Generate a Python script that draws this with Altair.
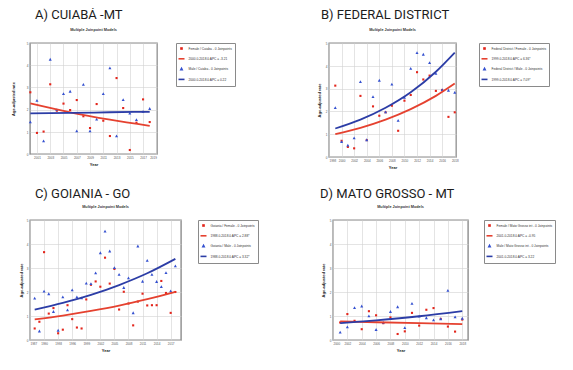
import altair as alt
import pandas as pd

# ---------------- data ----------------
# A) Cuiabá
a_years = list(range(2000, 2019))
a_female = [2.78, 0.95, 1.01, 3.14, 1.95, 2.27, 1.98, 2.43, 1.70, 1.17, 2.25, 1.50, 0.81, 3.42, 2.07, 0.18, 1.41, 2.46, 1.44]
a_male = [1.43, 2.40, 0.57, 4.25, 1.98, 2.70, 2.81, 1.02, 3.12, 1.02, 1.55, 2.70, 3.86, 0.80, 2.43, 1.82, 1.53, 1.90, 2.03]
a_fit_years = [2000, 2006, 2012, 2018]
a_fit_female = [2.28, 1.88, 1.55, 1.27]
a_fit_male = [1.83, 1.85, 1.88, 1.90]
a_labels = ["Female / Cuiaba - 0 Joinpoints", "2000.0-2018.0 APC = -3.21",
            "Male / Cuiaba - 0 Joinpoints", "2000.0-2018.0 APC = 0.22"]
a_ticks = [2001, 2003, 2005, 2007, 2009, 2011, 2013, 2015, 2017, 2019]

# B) Federal District
b_years = list(range(1999, 2019))
b_female = [3.13, 0.71, 0.44, 0.38, 2.68, 0.74, 2.22, 1.81, 1.96, 2.25, 1.15, 2.47, 2.72, 3.72, 3.40, 3.57, 2.90, 2.94, 1.76, 1.96]
b_male = [2.15, 0.66, 0.50, 0.82, 3.29, 0.74, 2.63, 3.35, 1.96, 3.18, 1.59, 2.60, 3.87, 4.56, 4.49, 4.12, 3.65, 2.94, 2.91, 2.82]
b_fit_years = [1999, 2003, 2007, 2011, 2015, 2018]
b_fit_female = [1.00, 1.28, 1.64, 2.10, 2.68, 3.22]
b_fit_male = [1.25, 1.64, 2.16, 2.84, 3.74, 4.58]
b_labels = ["Federal District / Female - 0 Joinpoints", "1999.0-2018.0 APC = 6.36*",
            "Federal District / Male - 0 Joinpoints", "1999.0-2018.0 APC = 7.09*"]
b_ticks = [1998, 2000, 2002, 2004, 2006, 2008, 2010, 2012, 2014, 2016, 2018]

# C) Goiania
c_years = list(range(1988, 2019))
c_female = [0.48, 0.76, 3.66, 1.10, 1.33, 0.28, 0.43, 1.45, 0.87, 0.52, 0.48, 1.69, 2.30, 2.44, 2.22, 3.43,
            2.35, 2.96, 1.27, 2.01, 1.52, 0.61, 1.60, 1.93, 1.44, 1.45, 1.45, 2.46, 1.96, 1.13, 2.00]
c_male = [1.73, 0.36, 2.02, 1.91, 1.17, 0.39, 1.78, 1.24, 2.07, 1.78, 1.74, 2.35, 2.33, 2.78, 3.62, 4.52,
          3.69, 3.00, 2.72, 2.17, 2.57, 1.12, 3.90, 2.43, 3.30, 2.72, 2.42, 2.21, 2.79, 2.03, 3.07]
c_fit_years = [1988, 1994, 2000, 2006, 2012, 2018]
c_fit_female = [0.86, 1.02, 1.21, 1.43, 1.70, 2.01]
c_fit_male = [1.27, 1.55, 1.88, 2.29, 2.78, 3.38]
c_labels = ["Goiania / Female - 0 Joinpoints", "1988.0-2018.0 APC = 2.88*",
            "Goiania / Male - 0 Joinpoints", "1988.0-2018.0 APC = 3.32*"]
c_ticks = [1987, 1990, 1993, 1996, 1999, 2002, 2005, 2008, 2011, 2014, 2017]

# D) Mato Grosso
d_years = list(range(2001, 2019))
d_female = [0.73, 1.08, 0.80, 0.45, 1.20, 1.03, 0.70, 0.94, 0.25, 0.36, 1.13, 0.60, 1.26, 1.33, 0.88, 0.56, 0.35, 0.85]
d_male = [0.31, 0.53, 1.33, 1.40, 0.99, 0.42, 0.72, 1.17, 1.37, 0.50, 1.51, 0.98, 0.91, 0.82, 0.87, 2.05, 0.95, 0.89]
d_fit_years = [2001, 2006, 2012, 2018]
d_fit_female = [0.78, 0.74, 0.70, 0.66]
d_fit_male = [0.70, 0.82, 0.99, 1.20]
d_labels = ["Female / Mato Grosso int - 0 Joinpoints", "2001.0-2018.0 APC = -0.95",
            "Male / Mato Grosso int - 0 Joinpoints", "2001.0-2018.0 APC = 3.22"]
d_ticks = [2000, 2002, 2004, 2006, 2008, 2010, 2012, 2014, 2016, 2018]

# ---------------- style ----------------
RED = "#e3261c"
RED_LINE = "#e5412f"
BLUE = "#3551d0"
BLUE_LINE = "#2c3da6"
SQ = "M-0.26,-0.26L0.26,-0.26L0.26,0.26L-0.26,0.26Z"
TRI = "M0,-0.32L0.3,0.24L-0.3,0.24Z"
LN = "M-1.5,0L1.5,0"
FONT = "Liberation Sans"


def panel(big, dx, t_off, years, fem, mal, fyears, ffem, fmal, labels, xdom, xticks, w, h, ytp, loff):
    pts = pd.DataFrame({
        "year": years + years,
        "rate": fem + mal,
        "leg": [labels[0]] * len(years) + [labels[2]] * len(years),
    })
    fit = pd.DataFrame({
        "year": fyears + fyears,
        "rate": ffem + fmal,
        "leg": [labels[1]] * len(fyears) + [labels[3]] * len(fyears),
    })
    leg = alt.Legend(title=None, orient="right", offset=loff, padding=2.5, rowPadding=2.3,
                     labelFontSize=3.2, labelFont=FONT, labelColor="#333", labelLimit=300,
                     labelOffset=4, symbolSize=16, symbolStrokeWidth=1.6,
                     strokeColor="#8a8a8a", fillColor="white")
    color = alt.Color("leg:N", scale=alt.Scale(domain=labels, range=[RED, RED_LINE, BLUE, BLUE_LINE]), legend=leg)
    shape = alt.Shape("leg:N", scale=alt.Scale(domain=labels, range=[SQ, LN, TRI, LN]), legend=leg)
    xs = alt.Scale(domain=xdom, nice=False, zero=False)
    ys = alt.Scale(domain=[0, 5], nice=False)
    xax = alt.Axis(values=xticks, format="d", title="Year", titlePadding=3, labelPadding=2.5)
    yax = alt.Axis(values=[0, 1, 2, 3, 4, 5], title="Age-adjusted rate", titlePadding=ytp, labelPadding=2)
    points = alt.Chart(pts).mark_point(filled=False, size=12, strokeWidth=1.2, opacity=1).encode(
        x=alt.X("year:Q", scale=xs, axis=xax),
        y=alt.Y("rate:Q", scale=ys, axis=yax),
        color=color,
        shape=shape,
    )
    lines = alt.Chart(fit).mark_line(strokeWidth=1.8, interpolate="monotone").encode(
        x=alt.X("year:Q", scale=xs, axis=xax),
        y=alt.Y("rate:Q", scale=ys, axis=yax),
        color=color,
    )
    inner = alt.layer(points, lines).properties(
        width=w, height=h,
        title=alt.TitleParams("Multiple Joinpoint Models", anchor="middle", frame="group",
                              fontSize=3.8, fontWeight="bold", color="#333", font=FONT, offset=10),
    )
    return alt.vconcat(inner, title=alt.TitleParams(big, anchor="start", frame="group", fontSize=13,
                                                    font="Roboto", fontWeight=400, color="#1c1c1c",
                                                    dx=dx, offset=t_off))


pa = panel("A) CUIABÁ -MT", 5, 6, a_years, a_female, a_male, a_fit_years, a_fit_female, a_fit_male,
           a_labels, [1999.95, 2019.1], a_ticks, 127, 111, 10.5, 18)
pb = panel("B) FEDERAL DISTRICT", -8, 6, b_years, b_female, b_male, b_fit_years, b_fit_female, b_fit_male,
           b_labels, [1998, 2018.2], b_ticks, 127, 114, 4, 19)
pc = panel("C) GOIANIA - GO", 5, 4, c_years, c_female, c_male, c_fit_years, c_fit_female, c_fit_male,
           c_labels, [1987, 2019.2], c_ticks, 151, 120, 3, 16)
pd_ = panel("D) MATO GROSSO - MT", -13, 4, d_years, d_female, d_male, d_fit_years, d_fit_female, d_fit_male,
            d_labels, [2000, 2018.8], d_ticks, 135, 120, 4, 15)

row1 = alt.hconcat(pa, pb, spacing=80).resolve_scale(
    color="independent", shape="independent", x="independent", y="independent").resolve_legend(
    color="independent", shape="independent")
row2 = alt.hconcat(pc, pd_, spacing=61).resolve_scale(
    color="independent", shape="independent", x="independent", y="independent").resolve_legend(
    color="independent", shape="independent")

chart = alt.vconcat(row1, row2, spacing=16).resolve_scale(
    color="independent", shape="independent", x="independent", y="independent").resolve_legend(
    color="independent", shape="independent").properties(
    padding={"left": 3, "top": 0, "right": 0, "bottom": 0}, background="white"
).configure_view(
    stroke="#8c8c8c", strokeWidth=1.4
).configure_axis(
    labelFontSize=3, labelColor="#555", labelFont=FONT,
    titleFontSize=4, titleFontWeight="bold", titleColor="#222", titleFont=FONT,
    gridColor="#d2d2d2", gridWidth=0.6, ticks=False, domain=False,
)

chart.save("out.html", embed_options={"renderer": "svg", "actions": False})
